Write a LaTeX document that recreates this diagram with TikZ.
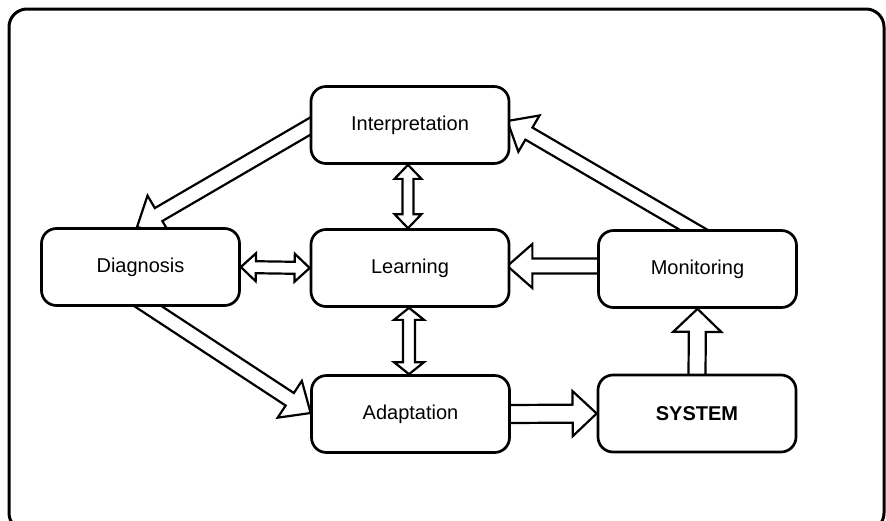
\documentclass[tikz,border=0pt]{standalone}
\usepackage{fontspec}
\setmainfont{Liberation Sans}
\usetikzlibrary{calc,backgrounds}

\tikzset{
  stage/.style={draw, line width=2.7pt, rounded corners=15pt, fill=white,
    minimum width=198pt, minimum height=77pt, inner sep=0pt,
    font=\fontsize{20}{24}\selectfont},
  fatarrow/.style={draw, fill=white, line width=2.2pt, line join=miter},
  frame/.style={draw, line width=3pt, rounded corners=18pt},
}

% Block arrow from #1 to #2: shaft half-width #3, head half-width #4, head length #5.
% The tail is pushed back 14pt so that it starts hidden under its box.
\newcommand\bigarrow[5]{%
  \coordinate (fa-e) at (#2);
  \coordinate (fa-s) at ($(#1)!-14pt!(fa-e)$);
  \coordinate (fa-c) at ($(fa-e)!#5!(fa-s)$);
  \path[fatarrow] ($(fa-s)!#3!90:(fa-e)$) -- ($(fa-c)!#3!-90:(fa-s)$)
    -- ($(fa-c)!#4!-90:(fa-s)$) -- (fa-e) -- ($(fa-c)!#4!90:(fa-s)$)
    -- ($(fa-c)!#3!90:(fa-s)$) -- ($(fa-s)!#3!-90:(fa-e)$) -- cycle;
}

% Double-headed block arrow between #1 and #2, same parameters.
\newcommand\twoarrow[5]{%
  \coordinate (fa-s) at (#1);
  \coordinate (fa-e) at (#2);
  \coordinate (fa-c1) at ($(fa-s)!#5!(fa-e)$);
  \coordinate (fa-c2) at ($(fa-e)!#5!(fa-s)$);
  \path[fatarrow] (fa-s) -- ($(fa-c1)!#4!90:(fa-e)$) -- ($(fa-c1)!#3!90:(fa-e)$)
    -- ($(fa-c2)!#3!-90:(fa-s)$) -- ($(fa-c2)!#4!-90:(fa-s)$) -- (fa-e)
    -- ($(fa-c2)!#4!90:(fa-s)$) -- ($(fa-c2)!#3!90:(fa-s)$)
    -- ($(fa-c1)!#3!-90:(fa-e)$) -- ($(fa-c1)!#4!-90:(fa-e)$) -- cycle;
}

\begin{document}
\begin{tikzpicture}[x=1pt, y=-1pt]
  \useasboundingbox (0,0) rectangle (886,520);

  % stages of the loop
  \node[stage] (interp) at (410,125)   {Interpretation};
  \node[stage] (learn)  at (410,268)   {Learning};
  \node[stage] (diag)   at (140.5,267) {Diagnosis};
  \node[stage] (monit)  at (697.5,269) {Monitoring};
  \node[stage] (adapt)  at (410.5,414) {Adaptation};
  \node[stage, font=\fontsize{20}{24}\selectfont\bfseries] (sys) at (697,413.5) {SYSTEM};

  % arrow end points on the box borders
  \coordinate (a1s) at ($(interp.west)+(0,1.5)$);
  \coordinate (a1e) at ($(diag.north)+(-3.5,0)$);
  \coordinate (a2s) at ($(monit.north)+(-5,0)$);
  \coordinate (a2e) at ($(interp.east)+(-3,-4)$);
  \coordinate (a3s) at ($(diag.south)+(8.5,0)$);
  \coordinate (a3e) at ($(adapt.west)+(0.5,-1)$);
  \coordinate (a4s) at ($(monit.west)+(0,-3)$);
  \coordinate (a4e) at ($(learn.east)+(-3,-2)$);
  \coordinate (d2s) at ($(interp.south)+(-2,0)$);
  \coordinate (d2e) at ($(learn.north)+(-2,0)$);
  \coordinate (d3s) at ($(learn.south)+(-1,0)$);
  \coordinate (d3e) at ($(adapt.north)+(-1.5,0)$);

  \begin{pgfonlayer}{background}
    % outer frame, its lower edge runs just below the page
    \path[frame] (9,9) rectangle (884,531);

    \bigarrow{a1s}{a1e}{7.5pt}{22pt}{25pt}
    \bigarrow{a2s}{a2e}{7pt}{21pt}{25pt}
    \bigarrow{a3s}{a3e}{7.5pt}{22pt}{25pt}
    \bigarrow{a4s}{a4e}{7.5pt}{22pt}{25pt}
    \bigarrow{sys.north}{monit.south}{8.5pt}{24pt}{23pt}
    \bigarrow{adapt.east}{sys.west}{9pt}{22.5pt}{24pt}

    \twoarrow{diag.east}{learn.west}{6pt}{14pt}{15pt}
    \twoarrow{d2s}{d2e}{5.5pt}{13.5pt}{14pt}
    \twoarrow{d3s}{d3e}{6pt}{15pt}{12pt}
  \end{pgfonlayer}
\end{tikzpicture}
\end{document}
